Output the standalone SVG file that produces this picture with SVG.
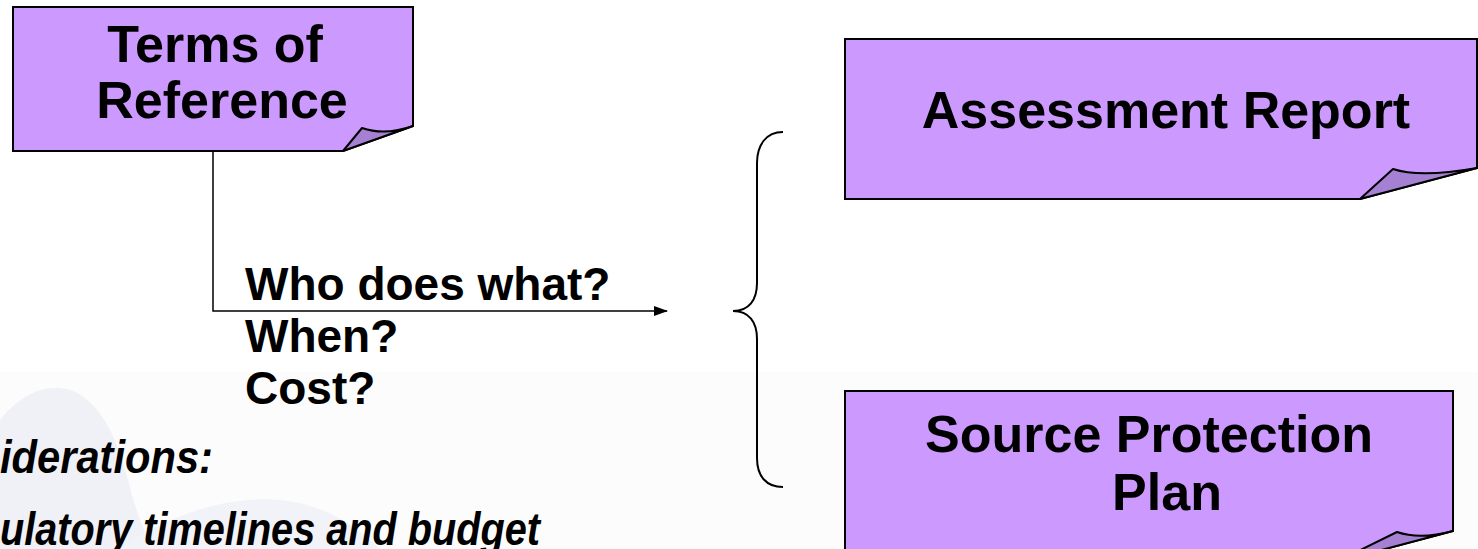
<svg xmlns="http://www.w3.org/2000/svg" width="1478" height="549" viewBox="0 0 1478 549">
<defs>
<style>
.box{fill:#cc99ff;stroke:#000;stroke-width:2;stroke-linejoin:miter}
.curl{fill:#a680d3;stroke:#000;stroke-width:2;stroke-linejoin:round}
.t{font-family:"Liberation Sans",Arial,sans-serif;font-weight:bold;fill:#000}
.big{font-size:52px;text-anchor:middle}
.lbl{font-size:46px}
.it{font-size:46px;font-style:italic}
.conn{fill:none;stroke:#000;stroke-width:1.5}
.brace{fill:none;stroke:#000;stroke-width:2}
</style>
<marker id="arr" markerWidth="14" markerHeight="10" refX="13" refY="5" orient="auto" markerUnits="userSpaceOnUse">
<path d="M0,0 L14,5 L0,10 Z" fill="#000"/>
</marker>
</defs>
<rect x="0" y="0" width="1478" height="549" fill="#ffffff"/>
<g id="background">
<rect x="0" y="372" width="1478" height="177" fill="#fcfcfc"/>
<path d="M0,420 C20,395 45,383 70,390 C100,400 118,440 128,480 C138,520 150,549 160,549 L0,549 Z" fill="#eff1f7"/>
<path d="M120,549 C160,520 220,495 280,500 C330,505 360,530 380,549 Z" fill="#f1f3f8"/>
</g>
<g id="connectors">
<path class="conn" d="M213,151 V311 H667" marker-end="url(#arr)"/>
<path class="brace" d="M783,132 C766,132 757,145 757,163 L757,283 C757,300 749,311 733,311 C749,311 757,322 757,339 L757,458 C757,476 766,487 783,487"/>
</g>
<g id="node-terms">
<path class="box" d="M13,7 H413 V126 L343,151 H13 Z"/>
<path class="curl" d="M343,151 L362,128 Q385,136 413,126 Z"/>
<text class="t big" x="215" y="62" font-size="51">Terms of</text>
<text class="t big" x="222" y="118" font-size="51">Reference</text>
</g>
<g id="labels">
<text class="t lbl" x="245" y="300">Who does what?</text>
<text class="t lbl" x="245" y="352">When?</text>
<text class="t lbl" x="245" y="404">Cost?</text>
<text class="t it" x="0" y="473" textLength="213" lengthAdjust="spacingAndGlyphs">iderations:</text>
<text class="t it" x="0" y="545" textLength="540" lengthAdjust="spacingAndGlyphs">ulatory timelines and budget</text>
</g>
<g id="node-assessment">
<path class="box" d="M845,39 H1477 V168 L1360,199 H845 Z"/>
<path class="curl" d="M1360,199 L1393,169 Q1420,178 1477,168 Z"/>
<text class="t big" x="1166" y="128">Assessment Report</text>
</g>
<g id="node-plan">
<path class="box" d="M845,391 H1453 V531 L1336,562 H845 Z"/>
<path class="curl" d="M1336,562 L1397,532 Q1420,540 1453,531 Z"/>
<text class="t big" x="1149" y="452">Source Protection</text>
<text class="t big" x="1167" y="510">Plan</text>
</g>
</svg>
